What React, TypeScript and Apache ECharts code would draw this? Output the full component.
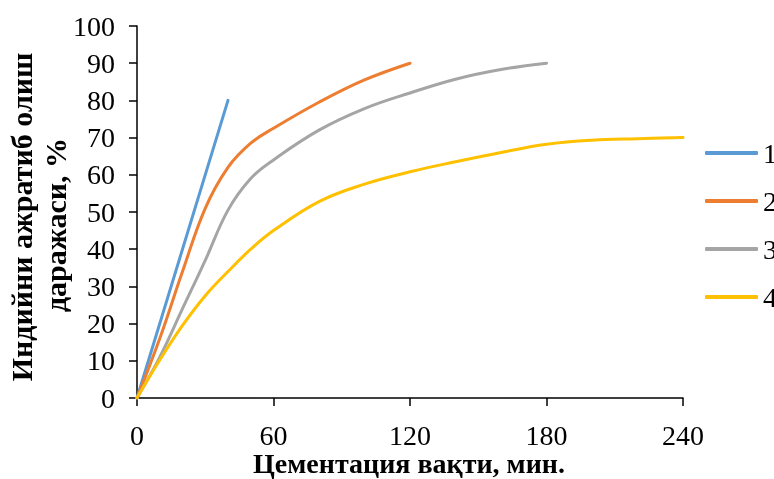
import React, { useEffect, useRef } from "react";
import * as echarts from "echarts";

const seriesNames = ["1", "2", "3", "4"];
const colors = ["#5B9BD5", "#ED7D31", "#A5A5A5", "#FFC000"];
const s1: [number, number][] = [[0, 0], [40, 80]];
const s2: [number, number][] = [[0, 0], [10, 16], [20, 34], [30, 51], [40, 62], [50, 68.5], [60, 72.5], [80, 79.5], [100, 85.5], [120, 90]];
const s3: [number, number][] = [[0, 0], [10, 11], [20, 24], [30, 37], [40, 50.5], [50, 59], [60, 64], [80, 72], [100, 77.8], [120, 82], [140, 85.7], [160, 88.3], [180, 90]];
const s4: [number, number][] = [[0, 0], [10, 10.2], [20, 19.5], [30, 27.5], [40, 34], [50, 40], [60, 45], [80, 52.8], [100, 57.5], [120, 60.8], [140, 63.5], [160, 66], [180, 68.2], [200, 69.3], [220, 69.7], [240, 70]];
const xTicks = { min: 0, max: 240, interval: 60 };
const yTicks = { min: 0, max: 100, interval: 10 };
const xTitle = "Цементация вақти, мин.";
const yTitleLines = ["Индийни ажратиб олиш", "даражаси, %"];

const FONT = "Liberation Serif";

export default function App() {
  const ref = useRef<HTMLDivElement>(null);
  useEffect(() => {
    if (!ref.current) return;
    const chart = echarts.init(ref.current, undefined, { renderer: "svg" });
    const data = [s1, s2, s3, s4];
    const titleStyle = { fontFamily: FONT, fontWeight: "bold", fill: "#000", align: "center", verticalAlign: "middle" };
    chart.setOption({
      animation: false,
      textStyle: { fontFamily: FONT },
      grid: { left: 137, right: 91, top: 26, bottom: 81, containLabel: false, outerBoundsMode: "none" },
      legend: {
        orient: "vertical",
        left: 700,
        top: 134,
        itemWidth: 53,
        itemHeight: 4,
        itemGap: 20,
        icon: "roundRect",
        textStyle: { fontFamily: FONT, fontSize: 28, color: "#000", lineHeight: 28 },
        data: seriesNames,
      },
      graphic: [
        { type: "text", x: 21, y: 217, rotation: Math.PI / 2, style: { ...titleStyle, text: yTitleLines[0], fontSize: 30 } },
        { type: "text", x: 55, y: 225, rotation: Math.PI / 2, style: { ...titleStyle, text: yTitleLines[1], fontSize: 30 } },
        { type: "text", x: 409, y: 463, style: { ...titleStyle, text: xTitle, fontSize: 28 } },
      ],
      xAxis: {
        type: "value",
        min: xTicks.min,
        max: xTicks.max,
        interval: xTicks.interval,
        axisLine: { lineStyle: { color: "#000", width: 1.5 } },
        axisTick: { show: true, length: 8, lineStyle: { color: "#000", width: 1.5 } },
        axisLabel: { fontFamily: FONT, fontSize: 28, color: "#000", margin: 23 },
        splitLine: { show: false },
      },
      yAxis: {
        type: "value",
        min: yTicks.min,
        max: yTicks.max,
        interval: yTicks.interval,
        axisLine: { show: true, lineStyle: { color: "#000", width: 1.5 } },
        axisTick: { show: true, length: 8, lineStyle: { color: "#000", width: 1.5 } },
        axisLabel: { fontFamily: FONT, fontSize: 28, color: "#000", margin: 22 },
        splitLine: { show: false },
      },
      series: data.map((d, i) => ({
        name: seriesNames[i],
        type: "line",
        data: d,
        smooth: i === 0 ? false : 0.4,
        showSymbol: false,
        symbol: "none",
        lineStyle: { color: colors[i], width: 3, cap: "round" },
        itemStyle: { color: colors[i] },
      })),
    });
    return () => chart.dispose();
  }, []);
  return <div ref={ref} style={{ position: "fixed", left: 0, top: 0, width: 774, height: 479 }} />;
}
